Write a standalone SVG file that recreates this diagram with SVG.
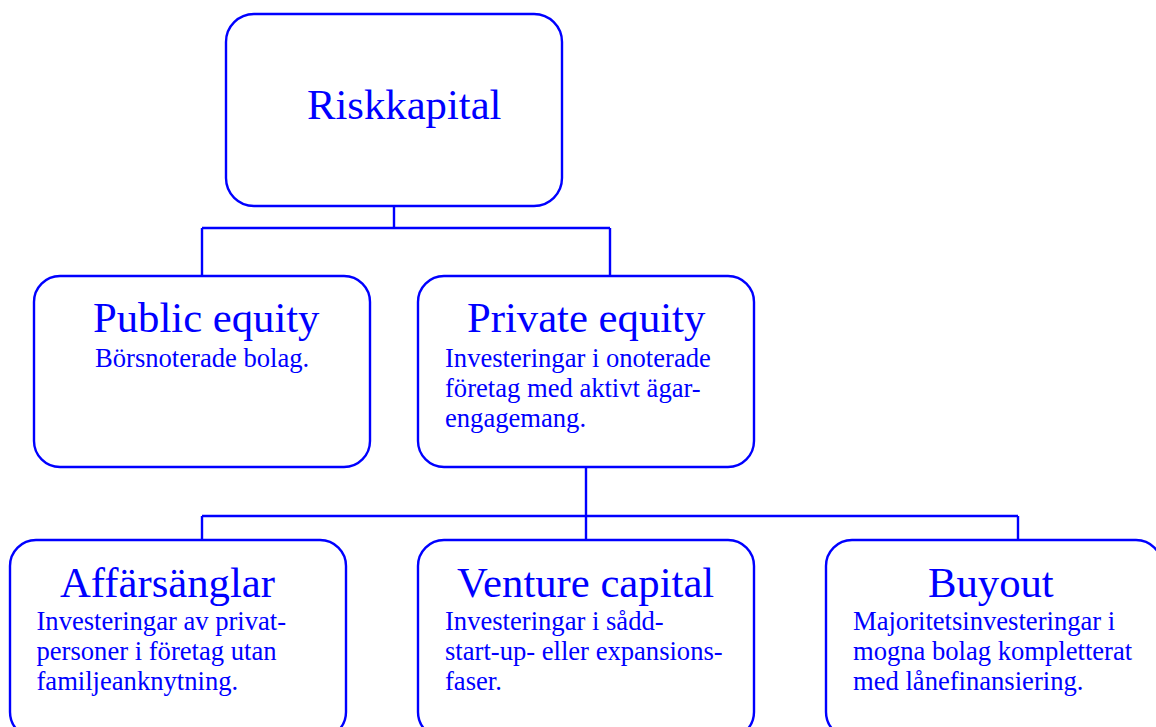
<svg xmlns="http://www.w3.org/2000/svg" width="1156" height="727" viewBox="0 0 1156 727">
  <style>
    .box { fill: #ffffff; stroke: #0000ff; stroke-width: 2.4; }
    .link { fill: none; stroke: #0000ff; stroke-width: 2.4; }
    .title { font-family: "Liberation Serif", "Times New Roman", serif; font-size: 42.7px; fill: #0000ff; }
    .body { font-family: "Liberation Serif", "Times New Roman", serif; font-size: 26.6px; fill: #0000ff; }
  </style>
  <rect width="1156" height="727" fill="#ffffff"/>

  <!-- tree connectors -->
  <g id="connectors">
    <path class="link" d="M394 203 V228 M202 228 H610 M202 228 V276 M610 228 V276"/>
    <path class="link" d="M586 467 V540 M202 516 H1018 M202 516 V540 M1018 516 V540"/>
  </g>

  <g id="riskkapital">
    <rect class="box" x="226" y="14" width="336" height="192" rx="28" ry="28"/>
    <text class="title" x="307" y="119">Riskkapital</text>
  </g>

  <g id="public-equity">
    <rect class="box" x="34" y="276" width="336" height="191" rx="26" ry="26"/>
    <text class="title" x="93" y="332">Public equity</text>
    <text class="body" x="95" y="366.5">Börsnoterade bolag.</text>
  </g>

  <g id="private-equity">
    <rect class="box" x="418" y="276" width="336" height="191" rx="26" ry="26"/>
    <text class="title" x="467" y="332">Private equity</text>
    <text class="body" x="445" y="366.5">Investeringar i onoterade</text>
    <text class="body" x="445" y="396.5">företag med aktivt ägar-</text>
    <text class="body" x="445" y="426.5">engagemang.</text>
  </g>

  <g id="affarsanglar">
    <rect class="box" x="10" y="540" width="336" height="198" rx="26" ry="26"/>
    <text class="title" x="60" y="596.5">Affärsänglar</text>
    <text class="body" x="36.5" y="629.5">Investeringar av privat-</text>
    <text class="body" x="36.5" y="659.5">personer i företag utan</text>
    <text class="body" x="36.5" y="689.5">familjeanknytning.</text>
  </g>

  <g id="venture-capital">
    <rect class="box" x="418" y="540" width="336" height="198" rx="26" ry="26"/>
    <text class="title" x="457" y="596.5">Venture capital</text>
    <text class="body" x="445" y="629.5">Investeringar i sådd-</text>
    <text class="body" x="445" y="659.5">start-up- eller expansions-</text>
    <text class="body" x="445" y="689.5">faser.</text>
  </g>

  <g id="buyout">
    <rect class="box" x="826" y="540" width="336" height="198" rx="26" ry="26"/>
    <text class="title" x="928" y="596.5">Buyout</text>
    <text class="body" x="853" y="629.5">Majoritetsinvesteringar i</text>
    <text class="body" x="853" y="659.5">mogna bolag kompletterat</text>
    <text class="body" x="853" y="689.5">med lånefinansiering.</text>
  </g>
</svg>
